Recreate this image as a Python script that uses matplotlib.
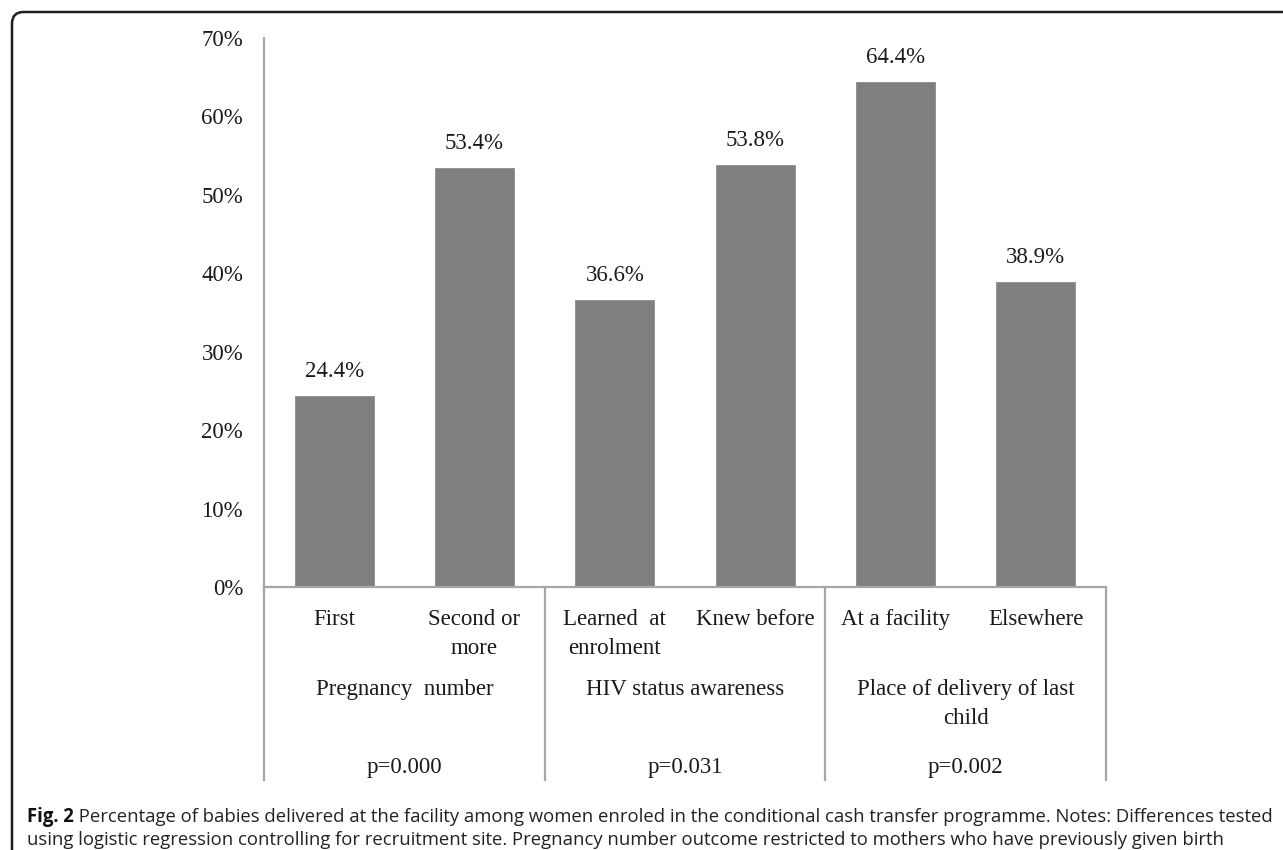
import matplotlib
matplotlib.use("Agg")
import matplotlib.pyplot as plt
from matplotlib.patches import FancyBboxPatch
from matplotlib.ticker import PercentFormatter
from matplotlib import font_manager

# ---- data -------------------------------------------------------------
categories = [["First"], ["Second or", "more"],
              ["Learned  at", "enrolment"], ["Knew before"],
              ["At a facility"], ["Elsewhere"]]
values = [0.244, 0.534, 0.366, 0.538, 0.644, 0.389]
value_labels = ["24.4%", "53.4%", "36.6%", "53.8%", "64.4%", "38.9%"]
groups = [["Pregnancy  number"], ["HIV status awareness"],
          ["Place of delivery of last", "child"]]
p_values = ["p=0.000", "p=0.031", "p=0.002"]
y_ticks = [0.0, 0.1, 0.2, 0.3, 0.4, 0.5, 0.6, 0.7]
caption_bold = "Fig. 2"
caption_line1 = (" Percentage of babies delivered at the facility among women enroled "
                 "in the conditional cash transfer programme. Notes: Differences tested")
caption_line2 = ("using logistic regression controlling for recruitment site. Pregnancy "
                 "number outcome restricted to mothers who have previously given birth")

# ---- style ------------------------------------------------------------
W, H = 1283, 850
SERIF = ["Liberation Serif", "DejaVu Serif"]
FS = 16.5
TXT = "#1a1a1a"
BAR = "#7f7f7f"
AXC = "#a6a6a6"

plt.rcParams["font.family"] = SERIF
fig = plt.figure(figsize=(W / 100, H / 100), dpi=100)

# axes placed in pixel terms: x 264..1106, y 38 (70%) .. 587 (0%)
ax = fig.add_axes([264 / W, 1 - 587 / H, (1106 - 264) / W, (587 - 38) / H])
ax.set_xlim(0, len(values))
ax.set_ylim(0, 0.7)

xs = [i + 0.5 for i in range(len(values))]
ax.bar(xs, values, width=0.565, color=BAR, edgecolor="#8c8c8c", linewidth=0.6, zorder=2)

for x, v, lab in zip(xs, values, value_labels):
    ax.text(x, v + 0.024, lab, ha="center", va="baseline", fontsize=FS, color=TXT)

ax.set_yticks(y_ticks)
ax.yaxis.set_major_formatter(PercentFormatter(1.0, decimals=0))
ax.tick_params(axis="y", length=0, pad=15, labelsize=FS, labelcolor=TXT)
ax.set_xticks([])
for s in ("top", "right"):
    ax.spines[s].set_visible(False)
for s in ("left", "bottom"):
    ax.spines[s].set_color(AXC)
    ax.spines[s].set_linewidth(1.6)

# data-unit conversion for pixel offsets below the axis
px = 0.7 / (587 - 38)

def y_at(pix):
    return (587 - pix) * px

# group separators hanging below the axis
for gx in [0, 2, 4, 6]:
    ax.plot([gx, gx], [0, y_at(781)], color=AXC, lw=1.6, clip_on=False,
            solid_capstyle="butt", zorder=3)

LINE = 29
for x, lines in zip(xs, categories):
    for k, t in enumerate(lines):
        ax.text(x, y_at(625 + k * LINE), t, ha="center", va="baseline",
                fontsize=FS, color=TXT, clip_on=False)

for g, (lines, p) in enumerate(zip(groups, p_values)):
    gx = 2 * g + 1
    for k, t in enumerate(lines):
        ax.text(gx, y_at(695 + k * LINE), t, ha="center", va="baseline",
                fontsize=FS, color=TXT, clip_on=False)
    ax.text(gx, y_at(773), p, ha="center", va="baseline", fontsize=FS,
            color=TXT, clip_on=False)

# ---- frame with rounded corner -----------------------------------------
frame = FancyBboxPatch((12 / W, -0.2), 1.3, 1 - 12 / H + 0.2,
                       boxstyle="round,pad=0,rounding_size=0.009",
                       transform=fig.transFigure, fill=False,
                       edgecolor="#1e1e1e", linewidth=1.8, clip_on=False,
                       mutation_aspect=W / H)
fig.add_artist(frame)

# ---- caption -------------------------------------------------------------
available = {f.name for f in font_manager.fontManager.ttflist}
CAP = [n for n in ("Liberation Sans Narrow", "Open Sans") if n in available] + ["DejaVu Sans"]
x0 = 27 / W
renderer = fig.canvas.get_renderer()
size = 12.0
tb = fig.text(x0, 1 - 822 / H, caption_bold, fontsize=size, fontweight="bold",
              family=CAP, color="#111111", va="baseline")
tr = fig.text(0, 1 - 822 / H, caption_line1, fontsize=size, family=CAP,
              color="#222222", va="baseline")
wb = tb.get_window_extent(renderer).width
wr = tr.get_window_extent(renderer).width
size = size * (1270 - 27) / (wb + wr)
tb.set_fontsize(size)
tr.set_fontsize(size)
wb = tb.get_window_extent(renderer).width
tr.set_x(x0 + wb / W)
fig.text(x0, 1 - 845 / H, caption_line2, fontsize=size, family=CAP,
         color="#222222", va="baseline")

fig.savefig("out.png", dpi=100)
